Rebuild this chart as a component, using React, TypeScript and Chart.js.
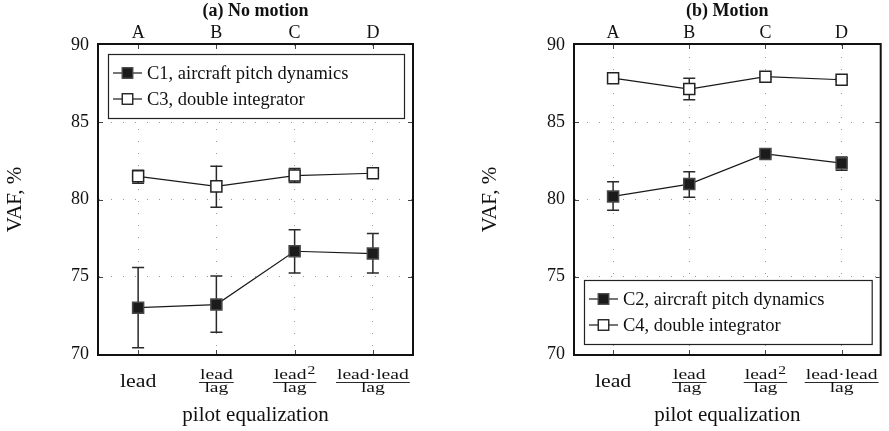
import { useEffect, useRef } from 'react';
import { Chart, registerables } from 'chart.js';

Chart.register(...registerables);

// ---- category / tick labels ----
const groupLetters = ['A', 'B', 'C', 'D'];
const eqNumerator = ['lead', 'lead', 'lead', 'lead·lead'];
const eqSuperscript = ['', '', '2', ''];
const eqDenominator = ['', 'lag', 'lag', 'lag'];

// ---- VAF values, % (mean and error bar limits) ----
const noMotionC1Mean = [73.0, 73.2, 76.65, 76.5];
const noMotionC1Low = [70.4, 71.4, 75.25, 75.25];
const noMotionC1High = [75.6, 75.05, 78.05, 77.8];

const noMotionC3Mean = [81.5, 80.85, 81.55, 81.7];
const noMotionC3Low = [81.05, 79.5, 81.1, 81.5];
const noMotionC3High = [81.9, 82.15, 82.0, 81.85];

const motionC2Mean = [80.2, 81.0, 82.95, 82.35];
const motionC2Low = [79.3, 80.15, 82.8, 81.9];
const motionC2High = [81.15, 81.8, 83.1, 82.75];

const motionC4Mean = [87.85, 87.15, 87.95, 87.75];
const motionC4Low = [87.75, 86.45, 87.8, 87.65];
const motionC4High = [87.95, 87.85, 88.1, 87.85];

const SERIF = "'Liberation Serif', 'Times New Roman', serif";
const INK = '#111';
const GRID = '#9a9a9a';

const FILLED = { fill: '#1b1b1b', stroke: '#484848' };
const OPEN = { fill: '#ffffff', stroke: '#222222' };

function makeSeries(label: string, mean: number[], low: number[], high: number[], style: { fill: string; stroke: string }) {
  return {
    label,
    data: mean.map((v, i) => ({ x: i + 1, y: v })),
    errLow: low,
    errHigh: high,
    markerFill: style.fill,
    markerStroke: style.stroke,
    borderColor: '#1a1a1a',
    borderWidth: 1.2,
    pointStyle: 'rect',
    pointRadius: 7.8,
    pointBackgroundColor: style.fill,
    pointBorderColor: style.stroke,
    pointBorderWidth: 1.5,
    showLine: true,
    tension: 0,
  };
}

// text drawn slightly widened, like the math labels of the equalization axis
function stretchedText(ctx: CanvasRenderingContext2D, text: string, x: number, y: number, sx: number) {
  ctx.save();
  ctx.translate(x, y);
  ctx.scale(sx, 1);
  ctx.fillText(text, 0, 0);
  ctx.restore();
}

const errorBarPlugin = {
  id: 'errorBars',
  beforeDatasetsDraw(chart: any) {
    const { ctx, scales } = chart;
    const xs = scales.x;
    const ys = scales.y;
    ctx.save();
    ctx.strokeStyle = '#2a2a2a';
    ctx.lineWidth = 1.5;
    chart.data.datasets.forEach((ds: any) => {
      ds.data.forEach((p: any, i: number) => {
        const px = xs.getPixelForValue(p.x);
        const yl = ys.getPixelForValue(ds.errLow[i]);
        const yh = ys.getPixelForValue(ds.errHigh[i]);
        ctx.beginPath();
        ctx.moveTo(px, yl);
        ctx.lineTo(px, yh);
        ctx.moveTo(px - 6, yl);
        ctx.lineTo(px + 6, yl);
        ctx.moveTo(px - 6, yh);
        ctx.lineTo(px + 6, yh);
        ctx.stroke();
      });
    });
    ctx.restore();
  },
};

const framePlugin = {
  id: 'frameDecor',
  beforeDatasetsDraw(chart: any) {
    const { ctx, chartArea, scales } = chart;
    const { left, right, top, bottom } = chartArea;
    ctx.save();
    // inward tick marks
    ctx.strokeStyle = '#444';
    ctx.lineWidth = 1;
    ctx.beginPath();
    scales.x.ticks.forEach((t: any) => {
      const px = Math.round(scales.x.getPixelForValue(t.value)) + 0.5;
      ctx.moveTo(px, top);
      ctx.lineTo(px, top + 4);
      ctx.moveTo(px, bottom - 4);
      ctx.lineTo(px, bottom);
    });
    scales.y.ticks.forEach((t: any) => {
      if (t.value <= scales.y.min || t.value >= scales.y.max) return;
      const py = Math.round(scales.y.getPixelForValue(t.value)) + 0.5;
      ctx.moveTo(left, py);
      ctx.lineTo(left + 4, py);
      ctx.moveTo(right - 4, py);
      ctx.lineTo(right, py);
    });
    ctx.stroke();
    // plot frame
    ctx.strokeStyle = '#111';
    ctx.lineWidth = 2;
    ctx.strokeRect(left - 1, top - 1, right - left + 2, bottom - top + 2);
    ctx.restore();
  },
  afterDraw(chart: any, _args: any, opts: any) {
    const { ctx, chartArea, scales } = chart;
    const { left, right, top, bottom } = chartArea;
    ctx.save();

    // equalization labels under the plot
    ctx.fillStyle = INK;
    ctx.textBaseline = 'alphabetic';
    ctx.textAlign = 'left';
    eqNumerator.forEach((num, i) => {
      const cx = scales.x.getPixelForValue(i + 1);
      if (!eqDenominator[i]) {
        ctx.font = `19px ${SERIF}`;
        const w = ctx.measureText(num).width * 1.15;
        stretchedText(ctx, num, cx - w / 2, bottom + 33, 1.15);
        return;
      }
      const sx = 1.4;
      ctx.font = `14px ${SERIF}`;
      const wNum = ctx.measureText(num).width * sx;
      ctx.font = `13px ${SERIF}`;
      const wSup = eqSuperscript[i] ? ctx.measureText(eqSuperscript[i]).width * 1.2 + 1 : 0;
      const total = wNum + wSup;
      const x0 = cx - total / 2;
      ctx.font = `14px ${SERIF}`;
      stretchedText(ctx, num, x0, bottom + 24.5, sx);
      if (eqSuperscript[i]) {
        ctx.font = `13px ${SERIF}`;
        stretchedText(ctx, eqSuperscript[i], x0 + wNum + 1, bottom + 20, 1.2);
      }
      ctx.font = `14px ${SERIF}`;
      const wDen = ctx.measureText(eqDenominator[i]).width * sx;
      stretchedText(ctx, eqDenominator[i], cx - wDen / 2, bottom + 37.5, sx);
      ctx.strokeStyle = INK;
      ctx.lineWidth = 0.9;
      ctx.beginPath();
      ctx.moveTo(x0 - 1, bottom + 28.5);
      ctx.lineTo(x0 + total + 1, bottom + 28.5);
      ctx.stroke();
    });

    // legend box
    const h = 64;
    const bx0 = left + 9;
    const bx1 = right - 8;
    const by0 = opts.anchor === 'top' ? top + 9 : bottom - 10 - h;
    ctx.fillStyle = '#fff';
    ctx.fillRect(bx0, by0, bx1 - bx0, h);
    ctx.strokeStyle = '#222';
    ctx.lineWidth = 1.2;
    ctx.strokeRect(bx0 + 0.5, by0 + 0.5, bx1 - bx0, h);
    const cy0 = by0 + h / 2;
    chart.data.datasets.forEach((ds: any, k: number) => {
      const cy = cy0 + (k === 0 ? -13 : 13);
      ctx.strokeStyle = '#1a1a1a';
      ctx.lineWidth = 1.2;
      ctx.beginPath();
      ctx.moveTo(bx0 + 5, cy);
      ctx.lineTo(bx0 + 34, cy);
      ctx.stroke();
      const s = 10.5;
      ctx.fillStyle = ds.markerFill;
      ctx.fillRect(bx0 + 19.5 - s / 2, cy - s / 2, s, s);
      ctx.strokeStyle = ds.markerStroke;
      ctx.lineWidth = 1.4;
      ctx.strokeRect(bx0 + 19.5 - s / 2, cy - s / 2, s, s);
      ctx.fillStyle = INK;
      ctx.font = `18.5px ${SERIF}`;
      ctx.textBaseline = 'middle';
      ctx.fillText(ds.label, bx0 + 39, cy + 1);
    });
    ctx.restore();
  },
};

type PanelSpec = {
  title: string;
  padLeft: number;
  axisWidth: number;
  padRight: number;
  legendAnchor: 'top' | 'bottom';
  series: any[];
};

const tickPositions = (s: any) => {
  s.ticks = groupLetters.map((_, i) => ({ value: i + 1 }));
};

function buildConfig(spec: PanelSpec): any {
  return {
    type: 'line',
    data: { datasets: spec.series },
    plugins: [errorBarPlugin, framePlugin],
    options: {
      responsive: false,
      animation: false,
      events: [],
      layout: { padding: { left: spec.padLeft, right: spec.padRight, top: 0, bottom: 0 } },
      plugins: {
        legend: { display: false },
        tooltip: { enabled: false },
        title: { display: false },
        frameDecor: { anchor: spec.legendAnchor },
      },
      scales: {
        x: {
          type: 'linear',
          position: 'bottom',
          min: 0.5,
          max: 4.5,
          afterBuildTicks: tickPositions,
          afterFit: (s: any) => {
            s.height = 77;
          },
          ticks: { display: false },
          grid: { color: GRID, lineWidth: 1, drawTicks: false },
          border: { display: false, dash: [1, 11] },
          title: {
            display: true,
            text: 'pilot equalization',
            color: INK,
            font: { family: SERIF, size: 21 },
            padding: { top: 0, bottom: 3 },
          },
        },
        x2: {
          type: 'linear',
          position: 'top',
          min: 0.5,
          max: 4.5,
          afterBuildTicks: tickPositions,
          afterFit: (s: any) => {
            s.height = 45;
          },
          ticks: {
            callback: (v: number) => groupLetters[Math.round(v) - 1],
            color: INK,
            font: { family: SERIF, size: 18 },
            padding: 1,
            maxRotation: 0,
          },
          grid: { display: false, drawTicks: false },
          border: { display: false },
          title: {
            display: true,
            text: spec.title,
            color: INK,
            font: { family: SERIF, size: 18, weight: 'bold' },
            padding: { top: 1, bottom: 0 },
          },
        },
        y: {
          type: 'linear',
          position: 'left',
          min: 70,
          max: 90,
          afterFit: (s: any) => {
            s.width = spec.axisWidth;
          },
          ticks: {
            stepSize: 5,
            color: INK,
            font: { family: SERIF, size: 18 },
            padding: 10,
          },
          grid: {
            color: (c: any) => (c.tick && (c.tick.value === 70 || c.tick.value === 90) ? 'rgba(0,0,0,0)' : GRID),
            lineWidth: 1,
            drawTicks: false,
          },
          border: { display: false, dash: [1, 11] },
          title: {
            display: true,
            text: 'VAF, %',
            color: INK,
            font: { family: SERIF, size: 21 },
            padding: { top: 3, bottom: 0 },
          },
        },
      },
    },
  };
}

const panels: PanelSpec[] = [
  {
    title: '(a) No motion',
    padLeft: 0,
    axisWidth: 99,
    padRight: 889 - 412,
    legendAnchor: 'top',
    series: [
      makeSeries('C1, aircraft pitch dynamics', noMotionC1Mean, noMotionC1Low, noMotionC1High, FILLED),
      makeSeries('C3, double integrator', noMotionC3Mean, noMotionC3Low, noMotionC3High, OPEN),
    ],
  },
  {
    title: '(b) Motion',
    padLeft: 475,
    axisWidth: 100,
    padRight: 2,
    legendAnchor: 'bottom',
    series: [
      makeSeries('C2, aircraft pitch dynamics', motionC2Mean, motionC2Low, motionC2High, FILLED),
      makeSeries('C4, double integrator', motionC4Mean, motionC4Low, motionC4High, OPEN),
    ],
  },
];

function Panel({ spec }: { spec: PanelSpec }) {
  const ref = useRef<HTMLCanvasElement | null>(null);
  useEffect(() => {
    if (!ref.current) return;
    const chart = new Chart(ref.current, buildConfig(spec));
    return () => chart.destroy();
  }, [spec]);
  return <canvas ref={ref} width={889} height={431} style={{ position: 'absolute', left: 0, top: 0 }} />;
}

export default function App() {
  return (
    <div style={{ position: 'absolute', left: 0, top: 0, width: 889, height: 431, background: '#fff', overflow: 'hidden' }}>
      {panels.map((p) => (
        <Panel key={p.title} spec={p} />
      ))}
    </div>
  );
}
